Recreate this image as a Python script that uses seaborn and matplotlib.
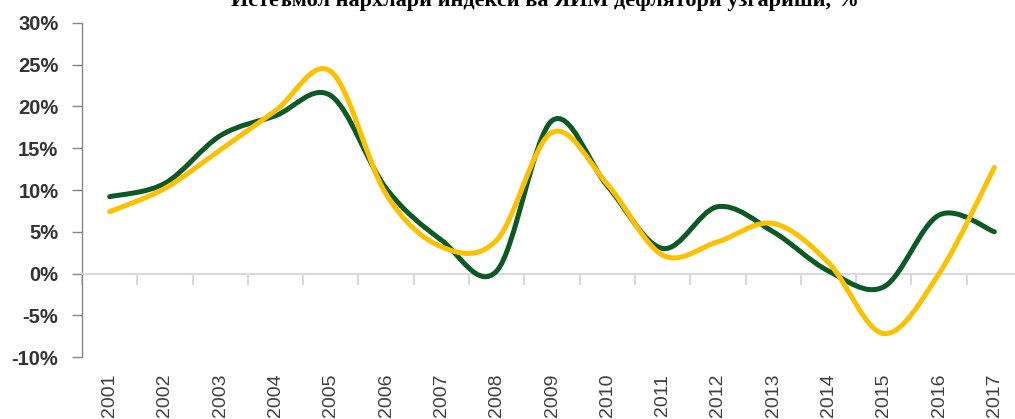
import numpy as np
import pandas as pd
import matplotlib
matplotlib.use("Agg")
import matplotlib.pyplot as plt
from matplotlib.path import Path
from matplotlib.patches import PathPatch
import seaborn as sns

# ---- data ----
years = ["2001", "2002", "2003", "2004", "2005", "2006", "2007", "2008", "2009",
         "2010", "2011", "2012", "2013", "2014", "2015", "2016", "2017"]
green_vals = [9.2, 10.8, 16.5, 18.9, 21.3, 10.2, 4.0, 0.3, 18.3,
              10.5, 3.0, 8.0, 5.0, 0.3, -1.6, 7.0, 5.0]
yellow_vals = [7.4, 10.2, 14.8, 19.5, 24.2, 9.5, 3.2, 4.0, 16.9,
               10.7, 2.2, 3.8, 6.0, 1.3, -7.2, 0.0, 12.7]
series_names = ["ЯИМ дефлятори", "Истеъмол нархлари индекси"]
y_ticks = [-10, -5, 0, 5, 10, 15, 20, 25, 30]
title = "Истеъмол нархлари индекси ва ЯИМ дефлятори ўзгариши, %"

colors = {series_names[0]: "#0B5A24", series_names[1]: "#FFC000"}

df = pd.DataFrame({
    "idx": list(range(len(years))) * 2,
    "year": years * 2,
    "value": green_vals + yellow_vals,
    "series": [series_names[0]] * len(years) + [series_names[1]] * len(years),
})

sns.set_theme(style="white")
plt.rcParams["font.family"] = ["Liberation Sans", "DejaVu Sans"]

fig = plt.figure(figsize=(10.15, 4.19), dpi=100)
ax = fig.add_axes([82 / 1015, 62 / 419, 940 / 1015, 334 / 419])

sns.lineplot(data=df, x="idx", y="value", hue="series", palette=colors,
             ax=ax, legend=False, sort=False)
# Replace straight segments by Excel-like smoothed (Catmull-Rom) Bezier curves
for ln in ax.get_lines():
    ln.set_visible(False)


def smooth_path(xs, ys):
    P = np.column_stack([xs, ys]).astype(float)
    n = len(P)
    verts = [P[0]]
    codes = [Path.MOVETO]
    for i in range(n - 1):
        p0 = P[i - 1] if i > 0 else P[i]
        p1 = P[i]
        p2 = P[i + 1]
        p3 = P[i + 2] if i + 2 < n else P[i + 1]
        c1 = p1 + (p2 - p0) / 6.0
        c2 = p2 - (p3 - p1) / 6.0
        verts += [c1, c2, p2]
        codes += [Path.CURVE4] * 3
    return Path(verts, codes)


for name in series_names:
    sub = df[df["series"] == name]
    patch = PathPatch(smooth_path(sub["idx"].values, sub["value"].values),
                      facecolor="none", edgecolor=colors[name], lw=3.6,
                      capstyle="round", joinstyle="round", zorder=3)
    ax.add_patch(patch)

ax.set_xlim(-0.5, len(years) - 0.5)
ax.set_ylim(-10, 30)

# y axis
ax.set_yticks(y_ticks)
ax.set_yticklabels([f"{t}%" for t in y_ticks], fontsize=14.5,
                   fontweight="bold", color="#333333")
ax.tick_params(axis="y", direction="out", length=7, width=1, color="#868686",
               pad=10, left=True)
ax.spines["left"].set_color("#868686")
ax.spines["left"].set_linewidth(1)
ax.spines["top"].set_visible(False)
ax.spines["right"].set_visible(False)

# zero line as bottom spine with category-boundary ticks
ax.spines["bottom"].set_position(("data", 0))
ax.spines["bottom"].set_color("#D9D9D9")
ax.spines["bottom"].set_linewidth(1.5)
ax.set_xticks(np.arange(-0.5, len(years), 1.0))
ax.set_xticklabels([])
ax.tick_params(axis="x", direction="out", length=8, width=1.5,
               color="#D9D9D9", bottom=True)
ax.set_xlabel("")
ax.set_ylabel("")
ax.grid(False)

# category labels at the bottom
sec = ax.secondary_xaxis(0)
sec.set_xticks(range(len(years)))
sec.set_xticklabels(years, rotation=90, fontsize=14, color="#404040")
sec.tick_params(length=0, pad=12)
sec.spines["bottom"].set_visible(False)

fig.text(545 / 1015, 1 - 6 / 419, title, ha="center", va="baseline",
         fontsize=16, fontweight="bold", family="Liberation Serif",
         color="#000000")

fig.savefig("out.png", dpi=100)
